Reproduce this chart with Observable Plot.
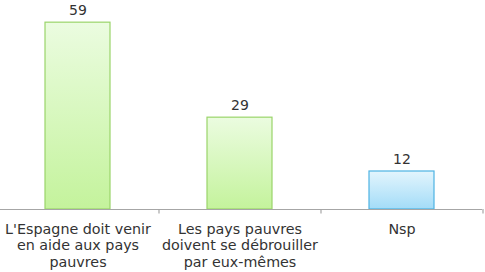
<!DOCTYPE html>
<html>
<head>
<meta charset="utf-8">
<script src="https://cdn.jsdelivr.net/npm/d3@7"></script>
<script src="https://cdn.jsdelivr.net/npm/@observablehq/plot@0.6"></script>
<style>
  html, body { margin: 0; padding: 0; background: #fff; }
  #chart svg { display: block; }
</style>
</head>
<body>
<div id="chart"></div>
<script>
const categories = ["espagne", "pauvres", "nsp"];
const labels = ["L'Espagne doit venir\nen aide aux pays\npauvres", "Les pays pauvres\ndoivent se débrouiller\npar eux-mêmes", "Nsp"];
const values = [59, 29, 12];
const fills = ["url(#gGreen)", "url(#gGreen)", "url(#gBlue)"];
const strokes = ["#9ad46a", "#9ad46a", "#4eb3e3"];

const data = categories.map((c, i) => ({cat: c, label: labels[i], value: values[i], fill: fills[i], stroke: strokes[i]}));

const defs = () => {
  const d = d3.create("svg:defs");
  const g1 = d.append("linearGradient").attr("id", "gGreen").attr("x1", 0).attr("y1", 0).attr("x2", 0).attr("y2", 1);
  g1.append("stop").attr("offset", "0%").attr("stop-color", "#ebfce0");
  g1.append("stop").attr("offset", "100%").attr("stop-color", "#c4f39c");
  const g2 = d.append("linearGradient").attr("id", "gBlue").attr("x1", 0).attr("y1", 0).attr("x2", 0).attr("y2", 1);
  g2.append("stop").attr("offset", "0%").attr("stop-color", "#e3f5fd");
  g2.append("stop").attr("offset", "100%").attr("stop-color", "#a3dcf8");
  return d.node();
};

const chart = Plot.plot({
  width: 485,
  height: 272,
  marginTop: 0,
  marginBottom: 63,
  marginLeft: 0,
  marginRight: 3,
  style: {fontFamily: "DejaVu Sans, Verdana, sans-serif", fontSize: "14px", color: "#333"},
  x: {domain: categories, range: [-4, 482], paddingInner: 0.6, paddingOuter: 0.3, axis: null},
  y: {domain: [0, 66], axis: null},
  marks: [
    defs,
    Plot.barY(data, {x: "cat", y: "value", fill: "fill", stroke: "stroke", strokeWidth: 1.2}),
    Plot.ruleY([0], {stroke: "#a6a6a6", strokeWidth: 1.2}),
    Plot.ruleX(data, {x: "cat", y1: 0, y2: -1.4, dx: 81, stroke: "#a6a6a6", strokeWidth: 1.2}),
    Plot.text(data, {x: "cat", y: "value", text: d => String(d.value), lineAnchor: "bottom", dy: -7.5, fill: "#333", fontSize: 14}),
    Plot.text(data, {x: "cat", y: 0, text: "label", lineAnchor: "top", dy: 12.5, lineHeight: 1.15, fill: "#333", fontSize: 14.3})
  ]
});
document.getElementById("chart").appendChild(chart);
</script>
</body>
</html>
